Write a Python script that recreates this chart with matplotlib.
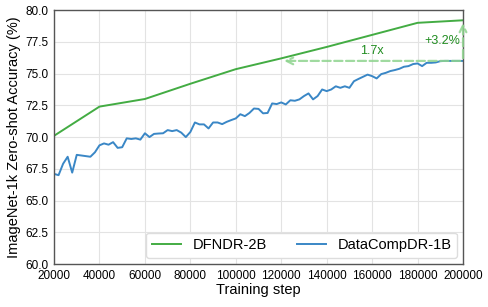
import matplotlib.pyplot as plt
import numpy as np

plt.rcParams['font.family'] = ['Liberation Sans', 'DejaVu Sans']

# DFNDR-2B, every 20k steps
steps_dfn = [20000, 40000, 60000, 80000, 100000, 120000, 140000, 160000, 180000, 200000]
acc_dfn = [70.1, 72.4, 73.0, 74.2, 75.35, 76.2, 77.1, 78.05, 79.0, 79.2]

# DataCompDR-1B, every 2k steps
steps_dc = list(range(20000, 200001, 2000))
acc_dc = [67.1, 67.0, 67.9, 68.45, 67.2, 68.6, 68.55, 68.5, 68.45, 68.8,
          69.35, 69.5, 69.4, 69.6, 69.15, 69.2, 69.9, 69.85, 69.9, 69.8,
          70.3, 70.0, 70.25, 70.28, 70.3, 70.55, 70.47, 70.55, 70.35, 70.0,
          70.4, 71.15, 71.0, 71.0, 70.68, 71.15, 71.15, 71.02, 71.2, 71.34,
          71.47, 71.8, 71.65, 71.9, 72.25, 72.22, 71.87, 71.9, 72.65, 72.6,
          72.73, 72.57, 72.9, 72.86, 72.97, 73.23, 73.44, 72.97, 73.23, 73.75,
          73.62, 73.75, 74.0, 73.88, 74.0, 73.88, 74.4, 74.58, 74.75, 74.92,
          74.8, 74.62, 74.96, 75.06, 75.2, 75.28, 75.38, 75.54, 75.59, 75.75,
          75.8, 75.59, 75.85, 75.85, 75.88, 75.98, 76.0, 76.0, 76.0, 76.0, 76.0]

xticks = list(range(20000, 200001, 20000))
yticks = [60.0, 62.5, 65.0, 67.5, 70.0, 72.5, 75.0, 77.5, 80.0]

fig = plt.figure(figsize=(4.88, 3.07), dpi=100)
ax = fig.add_axes([0.1107, 0.140, 0.8381, 0.827])

ax.plot(steps_dfn, acc_dfn, color='#43ac43', lw=1.4, label='DFNDR-2B')
ax.plot(steps_dc, acc_dc, color='#3a87c6', lw=1.4, label='DataCompDR-1B')

# annotations
end_dc = acc_dc[-1]
ax.annotate('', xy=(120000, end_dc), xytext=(200000, end_dc),
            arrowprops=dict(arrowstyle='->', color='#8fd48f', lw=1.6,
                            linestyle='--', alpha=0.85, mutation_scale=12))
ax.annotate('', xy=(200000, acc_dfn[-1]), xytext=(200000, end_dc),
            arrowprops=dict(arrowstyle='->', color='#8fd48f', lw=1.6,
                            linestyle='--', alpha=0.85, mutation_scale=12))
ax.text(160000, 76.75, '1.7x', color='#1f8c1f', fontsize=9, ha='center', va='center')
ax.text(191000, 77.6, '+3.2%', color='#1f8c1f', fontsize=9, ha='center', va='center')

ax.set_xlim(20000, 200000)
ax.set_ylim(60, 80)
ax.set_xticks(xticks)
ax.set_yticks(yticks)
ax.set_xticklabels([str(x) for x in xticks], fontsize=8.5)
ax.set_yticklabels(['%.1f' % y for y in yticks], fontsize=8.5)
ax.tick_params(length=0, pad=4)
ax.grid(True, color='#e3e3e3', lw=0.8)
for s in ax.spines.values():
    s.set_color('#555555')
    s.set_linewidth(1.0)

ax.set_xlabel('Training step', fontsize=10.5, labelpad=1)
ax.set_ylabel('ImageNet-1k Zero-shot Accuracy (%)', fontsize=10.5, labelpad=3)
ax.legend(loc='lower right', ncol=2, fontsize=10.5, handlelength=2.0,
          columnspacing=2.0, framealpha=1, edgecolor='#dddddd',
          borderaxespad=0.4)

plt.savefig('out.png', dpi=100)
